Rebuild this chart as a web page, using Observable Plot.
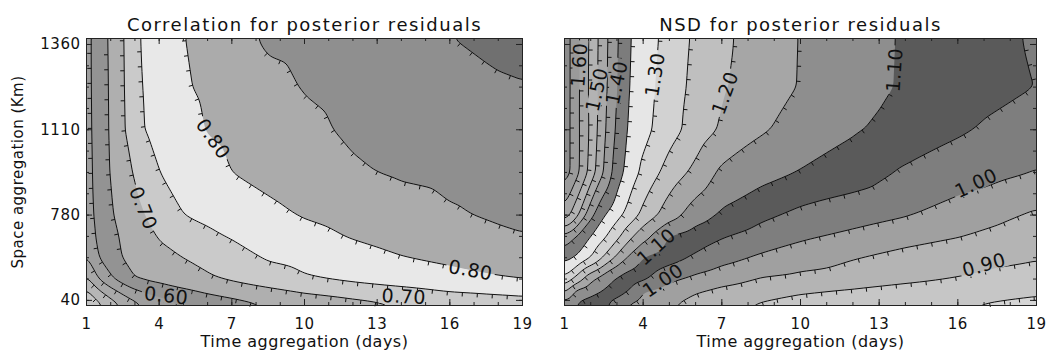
<!DOCTYPE html>
<html><head><meta charset="utf-8">
<script src="https://cdn.jsdelivr.net/npm/d3@7"></script>
<script src="https://cdn.jsdelivr.net/npm/@observablehq/plot@0.6"></script>
<style>
body{margin:0;background:#fff;}
#wrap{display:flex;width:1056px;height:356px;overflow:hidden;background:#fff;}
#wrap svg{font-family:"DejaVu Sans",sans-serif;letter-spacing:0.5px;overflow:visible;}
</style></head><body><div id="wrap"></div>
<script>
// Grid of sample positions: time aggregation (days) and space-aggregation axis position (index of tick 40/780/1110/1360)
const days = [1, 1.5, 2, 2.5, 3, 3.5, 4, 5, 6, 7, 8.5, 10, 12, 14, 16, 17.5, 19];
const spaceIdx = [-0.06, 0.1, 0.25, 0.5, 0.75, 1, 1.5, 2, 2.5, 3.07];
const spaceTicks = [0, 1, 2, 3];
const spaceTickLabels = ["40", "780", "1110", "1360"];
const dayTicks = [1, 4, 7, 10, 13, 16, 19];

// Correlation for posterior residuals (rows bottom -> top)
const corrRows = [
  [0.40, 0.436, 0.471, 0.506, 0.533, 0.556, 0.571, 0.60, 0.614, 0.629, 0.65, 0.664, 0.682, 0.70, 0.71, 0.718, 0.725],
  [0.44, 0.49, 0.529, 0.561, 0.589, 0.607, 0.617, 0.639, 0.656, 0.669, 0.687, 0.704, 0.72, 0.735, 0.75, 0.756, 0.762],
  [0.49, 0.55, 0.592, 0.622, 0.65, 0.657, 0.664, 0.679, 0.693, 0.706, 0.725, 0.744, 0.759, 0.771, 0.783, 0.792, 0.80],
  [0.545, 0.60, 0.628, 0.652, 0.664, 0.676, 0.688, 0.70, 0.714, 0.729, 0.755, 0.766, 0.782, 0.798, 0.81, 0.82, 0.83],
  [0.575, 0.608, 0.636, 0.657, 0.673, 0.689, 0.703, 0.721, 0.740, 0.754, 0.767, 0.785, 0.803, 0.818, 0.831, 0.839, 0.847],
  [0.58, 0.613, 0.644, 0.668, 0.685, 0.703, 0.72, 0.75, 0.761, 0.772, 0.789, 0.803, 0.817, 0.831, 0.845, 0.853, 0.862],
  [0.582, 0.618, 0.653, 0.680, 0.705, 0.727, 0.75, 0.767, 0.783, 0.80, 0.813, 0.826, 0.845, 0.855, 0.861, 0.866, 0.87],
  [0.584, 0.620, 0.656, 0.690, 0.738, 0.753, 0.762, 0.783, 0.802, 0.811, 0.826, 0.841, 0.856, 0.864, 0.871, 0.876, 0.882],
  [0.585, 0.621, 0.657, 0.693, 0.741, 0.755, 0.765, 0.795, 0.808, 0.820, 0.839, 0.852, 0.862, 0.873, 0.884, 0.891, 0.897],
  [0.585, 0.622, 0.659, 0.695, 0.743, 0.758, 0.766, 0.799, 0.814, 0.834, 0.856, 0.861, 0.869, 0.883, 0.899, 0.909, 0.918]
];

// NSD for posterior residuals (rows bottom -> top)
const nsdRows = [
  [1.12, 1.09, 1.075, 1.06, 1.02, 0.99, 0.978, 0.954, 0.932, 0.91, 0.893, 0.882, 0.872, 0.862, 0.851, 0.845, 0.84],
  [1.205, 1.13, 1.115, 1.095, 1.074, 1.044, 1.00, 0.976, 0.953, 0.937, 0.92, 0.904, 0.893, 0.88, 0.868, 0.861, 0.855],
  [1.29, 1.225, 1.16, 1.122, 1.094, 1.075, 1.057, 1.011, 0.988, 0.97, 0.947, 0.937, 0.925, 0.911, 0.898, 0.885, 0.872],
  [1.365, 1.343, 1.30, 1.246, 1.189, 1.138, 1.10, 1.07, 1.042, 1.018, 0.992, 0.975, 0.953, 0.934, 0.92, 0.913, 0.905],
  [1.44, 1.393, 1.35, 1.309, 1.264, 1.211, 1.167, 1.099, 1.076, 1.054, 1.03, 1.008, 0.988, 0.968, 0.952, 0.938, 0.925],
  [1.58, 1.508, 1.414, 1.354, 1.317, 1.278, 1.236, 1.172, 1.125, 1.092, 1.061, 1.038, 1.022, 1.003, 0.979, 0.961, 0.943],
  [1.68, 1.61, 1.53, 1.446, 1.373, 1.326, 1.288, 1.228, 1.187, 1.14, 1.119, 1.097, 1.075, 1.043, 1.025, 1.012, 0.998],
  [1.68, 1.61, 1.54, 1.46, 1.39, 1.339, 1.315, 1.27, 1.228, 1.193, 1.155, 1.133, 1.105, 1.081, 1.056, 1.04, 1.025],
  [1.68, 1.611, 1.537, 1.467, 1.40, 1.346, 1.321, 1.275, 1.236, 1.205, 1.174, 1.147, 1.12, 1.094, 1.075, 1.062, 1.049],
  [1.68, 1.611, 1.539, 1.47, 1.405, 1.35, 1.327, 1.281, 1.241, 1.21, 1.177, 1.148, 1.121, 1.095, 1.075, 1.059, 1.045]
];

const corrLevels = [0.35, 0.40, 0.45, 0.50, 0.55, 0.60, 0.65, 0.70, 0.75, 0.80, 0.85, 0.90];
const corrGrays = ["#d2d2d2", "#c4c4c4", "#b6b6b6", "#a8a8a8", "#9e9e9e", "#939393", "#afafaf", "#cacaca", "#e8e8e8", "#ababab", "#8f8f8f", "#707070"];
const nsdLevels = [0.80, 0.85, 0.90, 0.95, 1.00, 1.05, 1.10, 1.15, 1.20, 1.25, 1.30, 1.35, 1.40, 1.45, 1.50, 1.55, 1.60, 1.65];
const nsdGrays = ["#d6d6d6", "#c6c6c6", "#b4b4b4", "#a0a0a0", "#7e7e7e", "#5a5a5a", "#8e8e8e", "#a6a6a6", "#bfbfbf", "#d2d2d2", "#e6e6e6", "#7c7c7c", "#999999", "#a9a9a9", "#b3b3b3", "#a6a6a6", "#9a9a9a", "#8c8c8c"];

const corrLabels = [
  {day: 6.21, idx: 1.89, text: "0.80", angle: 55},
  {day: 3.32, idx: 1.08, text: "0.70", angle: 68},
  {day: 4.29, idx: 0.05, text: "0.60", angle: 6},
  {day: 16.85, idx: 0.35, text: "0.80", angle: 10},
  {day: 14.1, idx: 0.04, text: "0.70", angle: 3}
];
const nsdLabels = [
  {day: 1.58, idx: 2.76, text: "1.60", angle: -86},
  {day: 2.25, idx: 2.47, text: "1.50", angle: -77},
  {day: 3.01, idx: 2.55, text: "1.40", angle: -78},
  {day: 4.47, idx: 2.645, text: "1.30", angle: -81},
  {day: 7.14, idx: 2.43, text: "1.20", angle: -70},
  {day: 13.6, idx: 2.70, text: "1.10", angle: -86},
  {day: 4.51, idx: 0.625, text: "1.10", angle: -42},
  {day: 4.76, idx: 0.23, text: "1.00", angle: -34},
  {day: 16.7, idx: 1.37, text: "1.00", angle: -25},
  {day: 17.0, idx: 0.41, text: "0.90", angle: -16}
];

function gridPoints(rows) {
  const pts = [];
  rows.forEach((row, j) => row.forEach((v, i) => pts.push({day: days[i], idx: spaceIdx[j], value: v})));
  return pts;
}

function panel({rows, levels, grays, labels, title, marginLeft, marginRight, showY}) {
  const W = 528, H = 356, mt = 38, mb = 51;
  const fw = W - marginLeft - marginRight, fh = H - mt - mb;
  const minorX = d3.range(1, 19.01, 1);
  const minorY = d3.range(0, 3.01, 0.25);
  const pts = gridPoints(rows);
  const common = {x: "day", y: "idx", thresholds: levels, interpolate: "barycentric", blur: 3, pixelSize: 1};
  const marks = [
    Plot.contour(pts, {...common, fill: "value", stroke: "none"}),
    Plot.contour(pts, {...common, value: "value", fill: "none", stroke: "#111", strokeWidth: 1}),
    Plot.tickX(minorX, {x: d => d, insetTop: fh - 3, stroke: "#222"}),
    Plot.tickX(dayTicks, {x: d => d, insetTop: fh - 6, stroke: "#222"}),
    Plot.tickX(minorX, {x: d => d, insetBottom: fh - 3, stroke: "#222"}),
    Plot.tickX(dayTicks, {x: d => d, insetBottom: fh - 6, stroke: "#222"}),
    Plot.tickY(minorY, {y: d => d, insetRight: fw - 3, stroke: "#222"}),
    Plot.tickY(spaceTicks, {y: d => d, insetRight: fw - 6, stroke: "#222"}),
    Plot.tickY(minorY, {y: d => d, insetLeft: fw - 3, stroke: "#222"}),
    Plot.tickY(spaceTicks, {y: d => d, insetLeft: fw - 6, stroke: "#222"}),
    Plot.frame({stroke: "#222"}),
    Plot.text(labels, {x: "day", y: "idx", text: "text", rotate: "angle", fontSize: 19, fill: "#111"}),
    Plot.axisX({ticks: dayTicks, tickSize: 0, tickPadding: 13, fontSize: 15, label: null}),
    Plot.text([title], {text: d => d, frameAnchor: "top", dy: -20, fontSize: 18, fill: "#111"}),
    Plot.text(["Time aggregation (days)"], {text: d => d, frameAnchor: "bottom", dy: 41, fontSize: 16, fill: "#111"})
  ];
  if (showY) {
    marks.push(Plot.axisY({ticks: spaceTicks, tickFormat: i => spaceTickLabels[i], tickSize: 0, tickPadding: 6, fontSize: 15, label: null}));
    marks.push(Plot.text(["Space aggregation (Km)"], {text: d => d, frameAnchor: "left", textAnchor: "middle", dx: -68, rotate: -90, fontSize: 15, fill: "#111"}));
  }
  const svg = Plot.plot({
    width: W, height: H, marginLeft, marginRight, marginTop: mt, marginBottom: mb,
    style: {fontFamily: "DejaVu Sans, sans-serif", background: "transparent", color: "#111", overflow: "visible"},
    x: {domain: [1, 19], axis: null},
    y: {domain: [spaceIdx[0], spaceIdx[spaceIdx.length - 1]], axis: null},
    color: {type: "threshold", domain: levels.slice(1), range: grays},
    marks
  });
  for (const t of svg.querySelectorAll("text")) {
    if (t.textContent === title) t.setAttribute("letter-spacing", "1.5px");
  }
  return svg;
}

function decorate(svg, labels, id) {
  const ns = "http://www.w3.org/2000/svg";
  const sx = svg.scale("x"), sy = svg.scale("y");
  const x0 = Math.min(...sx.range), x1 = Math.max(...sx.range);
  const y0 = Math.min(...sy.range), y1 = Math.max(...sy.range);
  const lab = labels.map(d => ({x: sx.apply(d.day), y: sy.apply(d.idx), a: d.angle, w: 11.3 * d.text.length + 4}));
  const groups = svg.querySelectorAll('g[aria-label="contour"]');
  const fillG = groups[0], lineG = groups[1];
  // gaps in the contour lines under the labels
  const defs = document.createElementNS(ns, "defs");
  const mask = document.createElementNS(ns, "mask");
  mask.setAttribute("id", id);
  mask.setAttribute("maskUnits", "userSpaceOnUse");
  mask.setAttribute("x", 0); mask.setAttribute("y", 0);
  mask.setAttribute("width", 600); mask.setAttribute("height", 400);
  const bg = document.createElementNS(ns, "rect");
  bg.setAttribute("x", -10); bg.setAttribute("y", -10); bg.setAttribute("width", 620); bg.setAttribute("height", 420);
  bg.setAttribute("fill", "white");
  mask.appendChild(bg);
  for (const l of lab) {
    const r = document.createElementNS(ns, "rect");
    r.setAttribute("x", -l.w / 2); r.setAttribute("y", -7); r.setAttribute("width", l.w); r.setAttribute("height", 14);
    r.setAttribute("fill", "black");
    r.setAttribute("transform", `translate(${l.x},${l.y}) rotate(${l.a})`);
    mask.appendChild(r);
  }
  defs.appendChild(mask);
  svg.insertBefore(defs, svg.firstChild);
  lineG.setAttribute("mask", `url(#${id})`);
  // downhill ticks along the contour lines
  for (const p of fillG.querySelectorAll("path")) {
    const L = p.getTotalLength();
    for (let s = 7; s < L - 1; s += 15) {
      const a = p.getPointAtLength(s), b = p.getPointAtLength(s + 1), c = p.getPointAtLength(s - 1);
      if (a.x < x0 + 2 || a.x > x1 - 2 || a.y < y0 + 2 || a.y > y1 - 2) continue;
      let tx = b.x - c.x, ty = b.y - c.y;
      const n = Math.hypot(tx, ty);
      if (!n || n > 3) continue;
      tx /= n; ty /= n;
      let nx = -ty, ny = tx;
      const pt = svg.createSVGPoint();
      pt.x = a.x + nx * 1.5; pt.y = a.y + ny * 1.5;
      if (p.isPointInFill(pt)) { nx = -nx; ny = -ny; }
      const ln = document.createElementNS(ns, "line");
      ln.setAttribute("x1", a.x); ln.setAttribute("y1", a.y);
      ln.setAttribute("x2", a.x + nx * 4); ln.setAttribute("y2", a.y + ny * 4);
      ln.setAttribute("stroke", "#111"); ln.setAttribute("stroke-width", "1");
      lineG.appendChild(ln);
    }
  }
}

const wrap = document.getElementById("wrap");
const left = panel({rows: corrRows, levels: corrLevels, grays: corrGrays, labels: corrLabels,
  title: "Correlation for posterior residuals", marginLeft: 86, marginRight: 6, showY: true});
const right = panel({rows: nsdRows, levels: nsdLevels, grays: nsdGrays, labels: nsdLabels,
  title: "NSD for posterior residuals", marginLeft: 36, marginRight: 20, showY: false});
wrap.appendChild(left);
wrap.appendChild(right);
decorate(left, corrLabels, "gapL");
decorate(right, nsdLabels, "gapR");
</script></body></html>
